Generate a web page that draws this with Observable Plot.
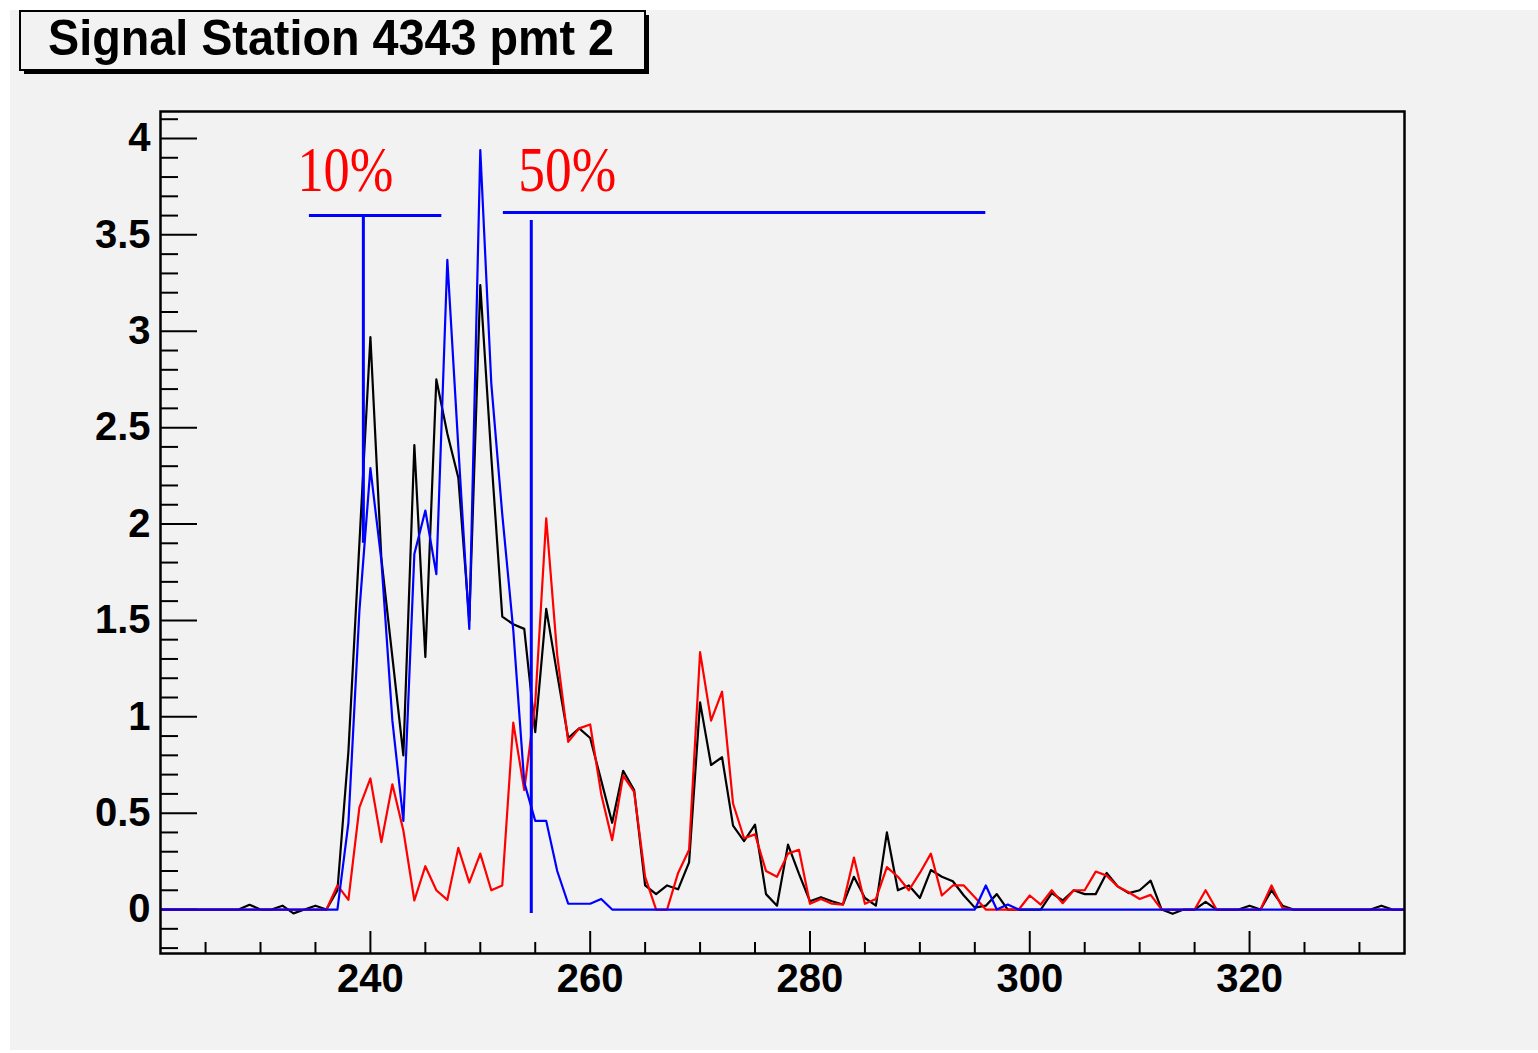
<!DOCTYPE html>
<html>
<head>
<meta charset="utf-8">
<script src="https://cdn.jsdelivr.net/npm/d3@7"></script>
<script src="https://cdn.jsdelivr.net/npm/@observablehq/plot@0.6"></script>
<style>
  body { margin: 0; background: #ffffff; }
  #wrap { position: relative; width: 1538px; height: 1053px; overflow: hidden; }
  #canvas { position: absolute; left: 10px; top: 10px; width: 1528px; height: 1040px; background: #f2f2f2; }
  #chart { position: absolute; left: 0; top: 0; }
  #title { position: absolute; left: 0; top: 0; }
</style>
</head>
<body>
<div id="wrap">
  <div id="canvas"></div>
  <div id="chart"></div>
  <svg id="title" width="700" height="90">
    <rect x="24" y="15" width="625" height="59" fill="#000"></rect>
    <rect x="20" y="11" width="625" height="59" fill="#f2f2f2" stroke="#000" stroke-width="2"></rect>
    <text x="48" y="55" font-family="'Liberation Sans', Arial, sans-serif" font-weight="bold" font-size="50" textLength="566" lengthAdjust="spacingAndGlyphs">Signal Station 4343 pmt 2</text>
  </svg>
</div>
<script>
// ---- data (bins 221 .. 334) ----
const bins = d3.range(221, 335);

const blackTrace = [
  0, 0, 0, 0, 0, 0, 0, 0,                                   // 221-228
  0.025, 0, 0, 0.02, -0.02, 0, 0.02, 0,                     // 229-236
  0.10, 0.82, 1.9, 2.97, 1.82, 1.31, 0.80, 2.41, 1.31, 2.75, 2.47, 2.24, 1.5, 3.24, // 237-250
  2.35, 1.52, 1.48, 1.456, 0.92, 1.56, 1.22, 0.89, 0.94, 0.89,   // 251-260
  0.67, 0.45, 0.72, 0.62, 0.125, 0.08, 0.125, 0.105, 0.245, 1.075, // 261-270
  0.75, 0.79, 0.435, 0.355, 0.44, 0.08, 0.02, 0.337, 0.185, 0.043, // 271-280
  0.064, 0.043, 0.026, 0.17, 0.06, 0.02, 0.40, 0.10, 0.125, 0.06,  // 281-290
  0.205, 0.17, 0.147, 0.073, 0.01, 0.02, 0.08, 0, 0, 0,           // 291-300
  0, 0.085, 0.047, 0.10, 0.08, 0.08, 0.19, 0.12, 0.085, 0.10,      // 301-310
  0.15, 0, -0.022, 0, 0, 0.04, 0, 0, 0, 0.02,                      // 311-320
  0, 0.10, 0.02, 0, 0, 0, 0, 0, 0, 0,                              // 321-330
  0, 0.02, 0, 0                                                    // 331-334
];

const redTrace = [
  0, 0, 0, 0, 0, 0, 0, 0, 0, 0, 0, 0, 0, 0, 0, 0,           // 221-236
  0.125, 0.05, 0.53, 0.68, 0.35, 0.65, 0.41, 0.047, 0.225, 0.10, 0.05, 0.32, 0.14, 0.29, // 237-250
  0.10, 0.125, 0.97, 0.62, 1.07, 2.03, 1.32, 0.87, 0.94, 0.96,     // 251-260
  0.60, 0.36, 0.695, 0.61, 0.17, 0, 0, 0.19, 0.31, 1.335,          // 261-270
  0.98, 1.13, 0.55, 0.37, 0.39, 0.20, 0.17, 0.29, 0.31, 0.03,      // 271-280
  0.055, 0.03, 0.026, 0.27, 0.03, 0.055, 0.22, 0.17, 0.10, 0.19,   // 281-290
  0.29, 0.073, 0.125, 0.125, 0.064, 0, 0, 0, 0, 0.073,             // 291-300
  0.026, 0.10, 0.033, 0.10, 0.10, 0.197, 0.176, 0.12, 0.09, 0.055, // 301-310
  0.076, 0, 0, 0, 0, 0.10, 0, 0, 0, 0,                             // 311-320
  0, 0.125, 0.008,                                                 // 321-323
  0, 0, 0, 0, 0, 0, 0, 0, 0, 0, 0                                  // 324-334
];

const blueTrace = [
  0, 0, 0, 0, 0, 0, 0, 0, 0, 0, 0, 0, 0, 0, 0, 0, 0,        // 221-237
  0.45, 1.55, 2.29, 1.81, 0.98, 0.46, 1.845, 2.07, 1.74, 3.37, 2.4, 1.456, 3.94, // 238-250
  2.73, 2.05, 1.45, 0.66, 0.46, 0.46, 0.2, 0.03, 0.03, 0.03,       // 251-260
  0.055,                                                           // 261
  0, 0, 0, 0, 0, 0, 0, 0, 0, 0, 0, 0, 0, 0, 0, 0, 0,               // 262-278
  0, 0, 0, 0, 0, 0, 0, 0, 0, 0, 0, 0, 0, 0, 0, 0, 0,               // 279-295
  0.125, 0, 0.026,                                                 // 296-298
  0, 0, 0, 0, 0, 0, 0, 0, 0, 0, 0, 0, 0, 0, 0, 0, 0, 0,            // 299-316
  0, 0, 0, 0, 0, 0, 0, 0, 0, 0, 0, 0, 0, 0, 0, 0, 0, 0             // 317-334
];

// tick positions
const xMajorTicks = [240, 260, 280, 300, 320];
const xMinorTicks = [225, 230, 235, 245, 250, 255, 265, 270, 275, 285, 290, 295, 305, 310, 315, 325, 330];
const yMajorTicks = [0, 0.5, 1, 1.5, 2, 2.5, 3, 3.5, 4];
const yMinorTicks = d3.range(-2, 42).map(k => k / 10).filter(v => Math.abs(v * 2 - Math.round(v * 2)) > 1e-9);

// percentage markers
const markerH = [
  {y: 3.6, x1: 234.45, x2: 246.5},
  {y: 3.616, x1: 252.1, x2: 296.0}
];
const markerV = [
  {x: 239.36, y1: 1.9, y2: 3.6},
  {x: 254.64, y1: -0.02, y2: 3.575}
];
const markerLabels = [
  {x: 233.36, y: 3.725, text: "10%", width: 96},
  {x: 253.45, y: 3.725, text: "50%", width: 98}
];

// ---- layout ----
const W = 1538, H = 1053;
const mL = 160, mR = 134, mT = 111, mB = 100;
const plotW = W - mL - mR, plotH = H - mT - mB;

const rows = (arr) => arr.map((v, i) => ({bin: bins[i], v}));

const chart = Plot.plot({
  width: W, height: H,
  marginLeft: mL, marginRight: mR, marginTop: mT, marginBottom: mB,
  x: {domain: [220.9, 334.1]},
  y: {domain: [-0.228, 4.14]},
  style: {
    background: "transparent",
    fontFamily: "'Liberation Sans', Arial, sans-serif",
    fontSize: "40px",
    fontWeight: "bold",
    color: "#000"
  },
  marks: [
    Plot.axisX({ticks: xMajorTicks, tickSize: 0, tickPadding: 10, tickFormat: d => String(d), label: null}),
    Plot.axisY({ticks: yMajorTicks, tickSize: 0, tickPadding: 10, tickFormat: d => String(d), label: null}),
    Plot.tickY(yMinorTicks, {y: d => d, insetRight: plotW - 18, stroke: "#000", strokeWidth: 2}),
    Plot.tickY(yMajorTicks, {y: d => d, insetRight: plotW - 37, stroke: "#000", strokeWidth: 2}),
    Plot.tickX(xMinorTicks, {x: d => d, insetTop: plotH - 11, stroke: "#000", strokeWidth: 2}),
    Plot.tickX(xMajorTicks, {x: d => d, insetTop: plotH - 22, stroke: "#000", strokeWidth: 2}),
    Plot.line(rows(blackTrace), {x: "bin", y: "v", stroke: "#000000", strokeWidth: 2.2, curve: "linear"}),
    Plot.line(rows(redTrace), {x: "bin", y: "v", stroke: "#ff0000", strokeWidth: 2.2, curve: "linear"}),
    Plot.line(rows(blueTrace), {x: "bin", y: "v", stroke: "#0000ff", strokeWidth: 2.2, curve: "linear"}),
    Plot.ruleY(markerH, {y: "y", x1: "x1", x2: "x2", stroke: "#0000ff", strokeWidth: 3}),
    Plot.ruleX(markerV, {x: "x", y1: "y1", y2: "y2", stroke: "#0000ff", strokeWidth: 3}),
    Plot.text(markerLabels, {x: "x", y: "y", text: "text", fill: "#ff0000", textAnchor: "start", lineAnchor: "bottom",
      fontSize: 64, fontFamily: "'Liberation Serif', 'DejaVu Serif', serif", fontWeight: "normal"}),
    Plot.frame({stroke: "#000", strokeWidth: 2.5})
  ]
});

// compress the percentage labels to their measured widths
chart.querySelectorAll("text").forEach(t => {
  const lab = markerLabels.find(m => m.text === t.textContent);
  if (lab) {
    t.setAttribute("textLength", lab.width);
    t.setAttribute("lengthAdjust", "spacingAndGlyphs");
  }
});

document.getElementById("chart").appendChild(chart);
</script>
</body>
</html>
